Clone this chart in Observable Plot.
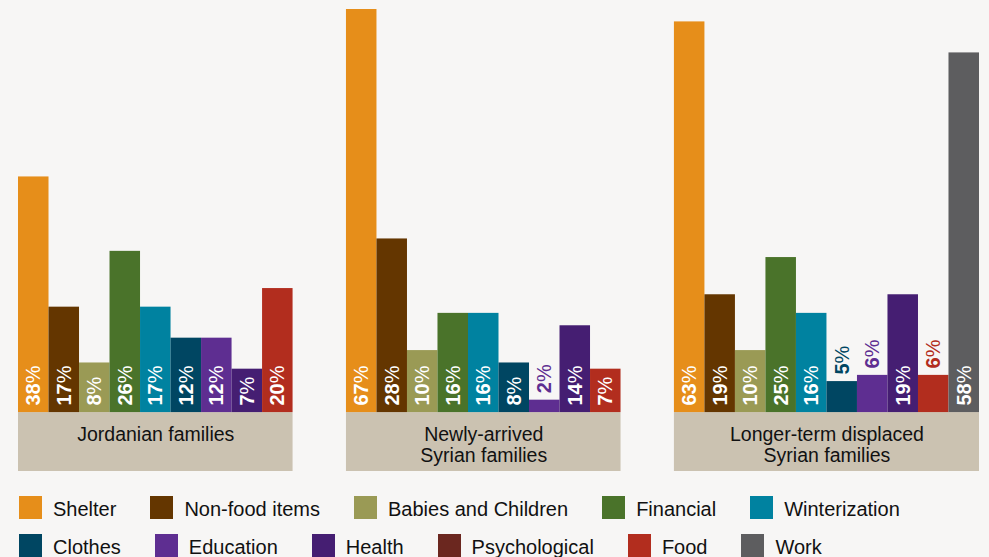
<!DOCTYPE html>
<html>
<head>
<meta charset="utf-8">
<script src="https://cdn.jsdelivr.net/npm/d3@7"></script>
<script src="https://cdn.jsdelivr.net/npm/@observablehq/plot@0.6"></script>
<style>
  html, body { margin: 0; padding: 0; background: #f7f6f5; }
  body { width: 989px; height: 557px; overflow: hidden; font-family: "Liberation Sans", Arial, Helvetica, sans-serif; }
  #chart svg { display: block; }
  .legend { padding-top: 16px; padding-left: 19px; }
  .row { display: flex; height: 23px; margin-bottom: 15px; }
  .item { display: flex; align-items: flex-start; }
  .sw { width: 23px; height: 23px; margin-right: 11px; flex: none; }
  .lab { font-size: 20px; line-height: 23px; color: #111; position: relative; top: 2px; white-space: nowrap; }
</style>
</head>
<body>
<div id="chart"></div>
<div class="legend" id="legend"></div>
<script>
// ---- data ----
const categories = ["Shelter", "Non-food items", "Babies and Children", "Financial", "Winterization",
  "Clothes", "Education", "Health", "Psychological", "Food", "Work"];
const colors = ["#e68e1a", "#643600", "#9a9a55", "#4a732a", "#0082a0",
  "#004662", "#5e2e91", "#451e72", "#6b271f", "#b22d1e", "#5d5d5f"];
const groups = ["Jordanian families", "Newly-arrived\nSyrian families", "Longer-term displaced\nSyrian families"];
const jordanianValues = [38, 17, 8, 26, 17, 12, 12, 7, null, 20, null];
const newlyArrivedValues = [67, 28, 10, 16, 16, 8, 2, 14, null, 7, null];
const longerTermValues = [63, 19, 10, 25, 16, 5, 6, 19, null, 6, 58];
const legendRow1 = ["Shelter", "Non-food items", "Babies and Children", "Financial", "Winterization"];
const legendRow2 = ["Clothes", "Education", "Health", "Psychological", "Food", "Work"];

// ---- build tables ----
const seriesValues = [jordanianValues, newlyArrivedValues, longerTermValues];
const GAP = 1.75; // gap between groups in bar-width units
const bars = [];
const boxes = [];
let start = 0;
seriesValues.forEach((vals, g) => {
  let i = 0;
  vals.forEach((v, c) => {
    if (v == null) return;
    bars.push({group: groups[g], category: categories[c], value: v, x1: start + i, x2: start + i + 1});
    i++;
  });
  boxes.push({name: groups[g], x1: start, x2: start + i});
  start += i + GAP;
});
const xMax = start - GAP;
const inside = bars.filter(d => d.value >= 7);
const outside = bars.filter(d => d.value < 7);

const chart = Plot.plot({
  width: 989,
  height: 480,
  marginLeft: 18,
  marginRight: 10,
  marginTop: 9,
  marginBottom: 9,
  style: {background: "transparent", fontFamily: "'Liberation Sans', Arial, Helvetica, sans-serif"},
  x: {type: "linear", domain: [0, xMax], axis: null},
  y: {domain: [-9.5, 65], axis: null, clamp: true},
  color: {domain: categories, range: colors},
  marks: [
    Plot.rect(boxes, {x1: "x1", x2: "x2", y1: -9.5, y2: 0, fill: "#cbc2b1"}),
    Plot.text(boxes, {x: d => (d.x1 + d.x2) / 2, y: 0, text: "name", lineAnchor: "top", dy: 13,
      fontSize: 19.5, fill: "#111", lineHeight: 1.08}),
    Plot.rect(bars, {x1: "x1", x2: "x2", y1: 0, y2: "value", fill: "category"}),
    Plot.text(inside, {x: d => (d.x1 + d.x2) / 2, y: 0, text: d => d.value + "%", rotate: -90,
      textAnchor: "start", dy: -7, fill: "white", fontWeight: "bold", fontSize: 20}),
    Plot.text(outside, {x: d => (d.x1 + d.x2) / 2, y: "value", text: d => d.value + "%", rotate: -90,
      textAnchor: "start", dy: -7, fill: "category", fontWeight: "bold", fontSize: 20})
  ]
});
document.getElementById("chart").appendChild(chart);

// render the "%" sign in a lighter weight, as in the original
d3.select(chart).selectAll("text").each(function () {
  const t = this.textContent;
  if (!/^\d+%$/.test(t)) return;
  const sel = d3.select(this);
  sel.text(null);
  sel.append("tspan").text(t.slice(0, -1));
  sel.append("tspan").attr("font-weight", "normal").text("%");
});

// ---- legend ----
const legend = document.getElementById("legend");
[legendRow1, legendRow2].forEach((row) => {
  const r = document.createElement("div");
  r.className = "row";
  r.style.gap = "34px";
  row.forEach(name => {
    const it = document.createElement("div");
    it.className = "item";
    const sw = document.createElement("div");
    sw.className = "sw";
    sw.style.background = colors[categories.indexOf(name)];
    const lab = document.createElement("div");
    lab.className = "lab";
    lab.textContent = name;
    it.appendChild(sw);
    it.appendChild(lab);
    r.appendChild(it);
  });
  legend.appendChild(r);
});
</script>
</body>
</html>
